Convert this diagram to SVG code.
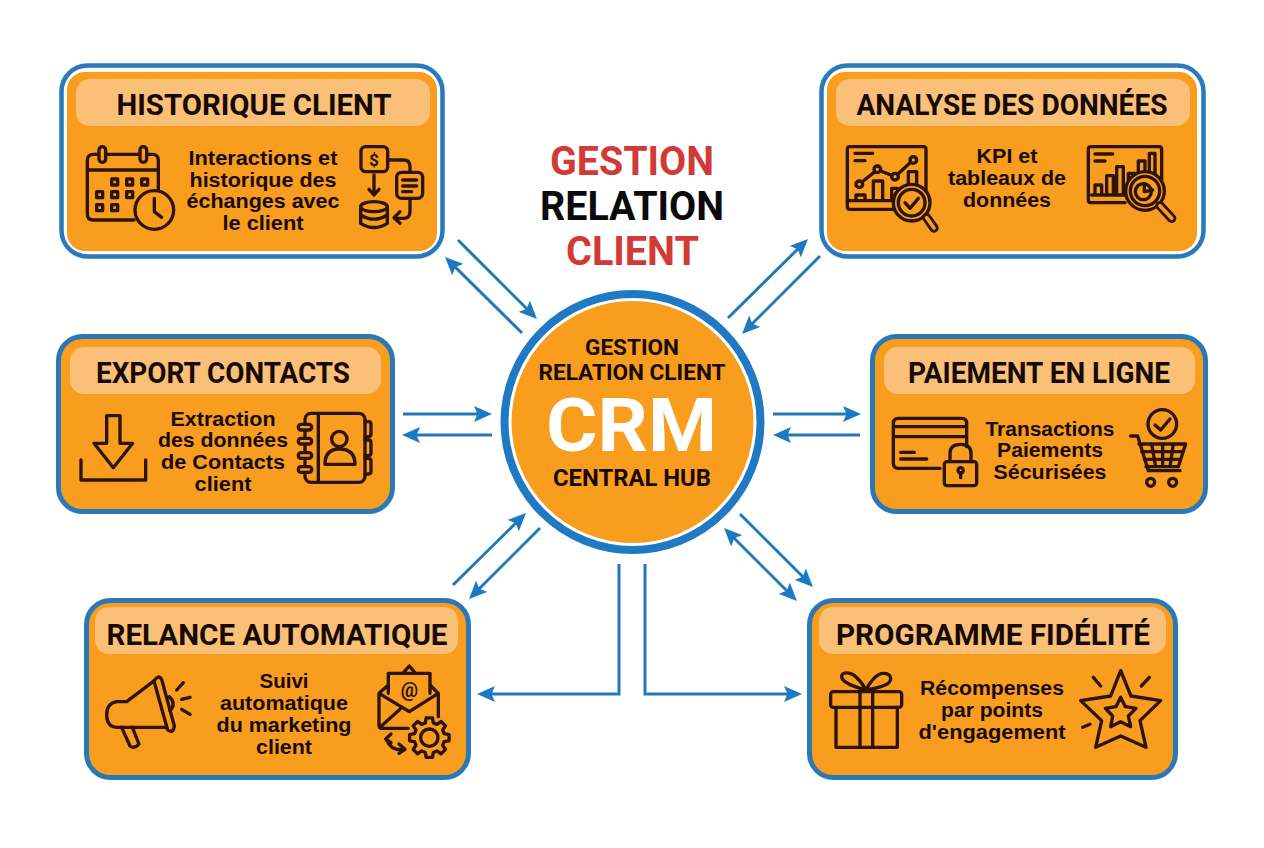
<svg xmlns="http://www.w3.org/2000/svg" width="1264" height="848" viewBox="0 0 1264 848">
<style>
text{text-anchor:middle;font-family:"Roboto","Liberation Sans",sans-serif;font-weight:700;fill:#170A04}
.ttl{font-size:41px}
.hd{font-size:29px}
.bd{font-family:"Liberation Sans","Arimo",sans-serif;font-size:20px}
.box{fill:#F99D1E;stroke:#2A78B5;stroke-width:5}
.out{fill:#fff;stroke:#2A7ABA;stroke-width:4.500}
.hdr{fill:#FBC078}
.ic{fill:none;stroke:#2E1408;stroke-width:10;stroke-linecap:round;stroke-linejoin:round}
.icf{fill:#F99D1E}
.ict{font-size:60px;fill:#2E1408}
.cn{fill:none;stroke:#2478B8;stroke-width:3}
</style>
<defs>
<marker id="ah" viewBox="0 0 18 16" refX="10" refY="8" markerWidth="18" markerHeight="16" markerUnits="userSpaceOnUse" orient="auto-start-reverse"><path d="M0 0L18 8L0 16L3.500 8Z" fill="#1C7AC4"/></marker>
</defs>
<rect width="1264" height="848" fill="#fff"/>

<g id="title">
<text class="ttl" x="632" y="175" style="fill:#D13A36" textLength="164" lengthAdjust="spacingAndGlyphs">GESTION</text>
<text class="ttl" x="632" y="220" style="fill:#0a0a0a" textLength="184" lengthAdjust="spacingAndGlyphs">RELATION</text>
<text class="ttl" x="632.500" y="265" style="fill:#D13A36" textLength="133" lengthAdjust="spacingAndGlyphs">CLIENT</text>
</g>

<g id="connectors" class="cn" marker-end="url(#ah)">
<path d="M458 240L531.300 313.300"/>
<path d="M522 333L450.700 262.600"/>
<path d="M728 318L802.300 244.600"/>
<path d="M820 256L747.700 328.300"/>
<path d="M403 414H484"/>
<path d="M492 435H410"/>
<path d="M773 414H853"/>
<path d="M860 435H781"/>
<path d="M453 585L520.300 518.600"/>
<path d="M540 528L474.700 593.300"/>
<path d="M740 514L807.300 581.300"/>
<path d="M729.700 533.700L791.300 595.300" marker-start="url(#ah)"/>
<path d="M619 564V694H485"/>
<path d="M645 564V694H794"/>
</g>

<g id="hub">
<circle cx="632.500" cy="422" r="128" fill="#fff" stroke="#1F79C4" stroke-width="8"/>
<circle cx="632.500" cy="422" r="121" fill="#F99D1E"/>
<text x="632" y="355" style="font-size:22.500px" textLength="94" lengthAdjust="spacingAndGlyphs">GESTION</text>
<text x="632" y="380" style="font-size:22.500px" textLength="187" lengthAdjust="spacingAndGlyphs">RELATION CLIENT</text>
<text x="631.500" y="451" style="font-size:75px;fill:#fff" textLength="171" lengthAdjust="spacingAndGlyphs">CRM</text>
<text x="632" y="486" style="font-size:24px" textLength="158" lengthAdjust="spacingAndGlyphs">CENTRAL HUB</text>
</g>

<g id="historique">
<rect class="out" x="61.500" y="65.500" width="381" height="191" rx="26"/>
<rect class="icf" x="67" y="72" width="370" height="179" rx="18"/>
<rect class="hdr" x="76" y="79" width="354" height="47" rx="14"/>
<text class="hd" x="254" y="115" textLength="275" lengthAdjust="spacingAndGlyphs">HISTORIQUE CLIENT</text>
<text class="bd" x="263" y="165" textLength="149" lengthAdjust="spacingAndGlyphs">Interactions et</text>
<text class="bd" x="263" y="187" textLength="147" lengthAdjust="spacingAndGlyphs">historique des</text>
<text class="bd" x="263" y="208" textLength="153" lengthAdjust="spacingAndGlyphs">échanges avec</text>
<text class="bd" x="263" y="230" textLength="81" lengthAdjust="spacingAndGlyphs">le client</text>
<g transform="translate(50 55) scale(.33333)" class="ic">
<path d="M252 495H130Q112 495 112 477V316Q112 298 130 298H145M170 298H268M292 298H307Q325 298 325 316V405M112 345H325"/>
<rect x="147" y="275" width="20" height="47" rx="10"/><rect x="270" y="275" width="20" height="47" rx="10"/>
<path d="M185 372h18v18h-18zM230 372h18v18h-18zM275 372h18v18h-18zM140 410h18v18h-18zM185 410h18v18h-18zM230 410h18v18h-18zM140 449h18v18h-18zM185 449h18v18h-18z"/>
<circle cx="313" cy="465" r="58" class="icf"/>
<path d="M313 430V470L335 487"/>
<rect x="933" y="275" width="80" height="75" rx="14"/>
<text class="ict" x="972" y="334" style="font-size:52px;stroke:none">$</text>
<path d="M1013 315H1060Q1080 315 1080 335V352M1080 430V470Q1080 490 1060 490H1035M1050 470L1032 488L1050 505M972 360V418M957 403L972 420L987 403"/>
<rect x="1040" y="352" width="78" height="78" rx="15"/>
<path d="M1058 375H1100M1058 393H1100M1058 410H1085"/>
<ellipse cx="972" cy="455" rx="40" ry="15"/>
<path d="M932 455V505Q972 530 1012 505V455M932 480Q972 505 1012 480"/>
</g>
</g>

<g id="analyse">
<rect class="out" x="821.500" y="65.500" width="382" height="191" rx="26"/>
<rect class="icf" x="827" y="72" width="370" height="179" rx="18"/>
<rect class="hdr" x="836" y="79" width="354" height="47" rx="14"/>
<text class="hd" x="1012" y="115" textLength="311" lengthAdjust="spacingAndGlyphs">ANALYSE DES DONNÉES</text>
<text class="bd" x="1007" y="163" textLength="61" lengthAdjust="spacingAndGlyphs">KPI et</text>
<text class="bd" x="1007" y="185" textLength="118" lengthAdjust="spacingAndGlyphs">tableaux de</text>
<text class="bd" x="1007" y="207" textLength="88" lengthAdjust="spacingAndGlyphs">données</text>
<g transform="translate(810 55) scale(.33333)" class="ic">
<path d="M255 463H120Q112 463 112 455V283Q112 275 120 275H340Q348 275 348 283V405M135 295H188M135 317H165"/>
<path d="M156 381L195 350M212 348L246 361M263 358L302 322"/>
<circle cx="148" cy="388" r="10"/><circle cx="202" cy="343" r="10"/><circle cx="255" cy="365" r="10"/><circle cx="310" cy="315" r="10"/>
<path d="M138 437V420H165V437M190 437V378H218V437M245 430V400H262M295 385V350H320V385M112 437H250"/>
<circle cx="305" cy="443" r="55" class="icf"/><circle cx="305" cy="443" r="40"/>
<path d="M285 443L300 460L325 430"/>
<path d="M350 488L372 519" style="stroke-width:28"/><path d="M350 488L372 519" style="stroke:#F99D1E;stroke-width:11"/>
<path d="M945 443H843Q835 443 835 435V283Q835 275 843 275H1047Q1055 275 1055 283V375M855 297H908M855 318H885"/>
<path d="M855 420V390H875V420M890 420V362H910V420M920 420V335H940V420M955 375V355H975M985 360V318H1005V350M1018 385V295H1035V385M845 420H945"/>
<circle cx="1005" cy="408" r="58" class="icf"/><circle cx="1005" cy="408" r="44"/><circle cx="1000" cy="410" r="24"/>
<path d="M1003 385V410L1028 405"/>
<path d="M1050 452L1085 490" style="stroke-width:28"/><path d="M1050 452L1085 490" style="stroke:#F99D1E;stroke-width:11"/>
</g>
</g>

<g id="export">
<rect class="box" x="58.500" y="336.500" width="334" height="175" rx="24"/>
<rect class="hdr" x="70" y="347" width="311" height="47" rx="14"/>
<text class="hd" x="223" y="383" textLength="254" lengthAdjust="spacingAndGlyphs">EXPORT CONTACTS</text>
<text class="bd" x="223" y="426" textLength="105" lengthAdjust="spacingAndGlyphs">Extraction</text>
<text class="bd" x="223" y="447" textLength="130" lengthAdjust="spacingAndGlyphs">des données</text>
<text class="bd" x="223" y="469" textLength="124" lengthAdjust="spacingAndGlyphs">de Contacts</text>
<text class="bd" x="223" y="491" textLength="57" lengthAdjust="spacingAndGlyphs">client</text>
<g transform="translate(50 325) scale(.33333)" class="ic">
<path d="M170 272H210V355H248L190 428L132 355H170ZM93 405V465H287V405"/>
<rect x="765" y="265" width="180" height="207" rx="18"/>
<path d="M805 265V472"/>
<rect x="745" y="298" width="40" height="17" rx="8" class="icf"/><rect x="745" y="340" width="40" height="17" rx="8" class="icf"/><rect x="745" y="383" width="40" height="17" rx="8" class="icf"/><rect x="745" y="425" width="40" height="17" rx="8" class="icf"/>
<path d="M945 290H955Q963 290 963 298V327Q963 335 955 335H945M945 345H955Q963 345 963 353V384Q963 392 955 392H945M945 400H955Q963 400 963 408V439Q963 447 955 447H945"/>
<circle cx="868" cy="342" r="23"/>
<path d="M825 418Q825 372 868 372Q915 372 915 418Z"/>
</g>
</g>

<g id="paiement">
<rect class="box" x="872.500" y="336.500" width="333" height="175" rx="24"/>
<rect class="hdr" x="884" y="347" width="311" height="47" rx="14"/>
<text class="hd" x="1039" y="383" textLength="262" lengthAdjust="spacingAndGlyphs">PAIEMENT EN LIGNE</text>
<text class="bd" x="1050" y="436" textLength="129" lengthAdjust="spacingAndGlyphs">Transactions</text>
<text class="bd" x="1050" y="457" textLength="106" lengthAdjust="spacingAndGlyphs">Paiements</text>
<text class="bd" x="1050" y="479" textLength="113" lengthAdjust="spacingAndGlyphs">Sécurisées</text>
<g transform="translate(865 325) scale(.33333)" class="ic">
<path d="M225 430H100Q85 430 85 415V295Q85 280 100 280H290Q305 280 305 295V365M85 305H305M85 335H305M107 382H148M107 402H185"/>
<path d="M255 410V385Q255 358 287 358Q318 358 318 385V410"/>
<rect x="238" y="410" width="97" height="72" rx="8"/>
<circle cx="287" cy="436" r="8"/><path d="M287 443V458"/>
<circle cx="892" cy="297" r="43"/>
<path d="M870 300L887 315L915 282M797 333H818L850 437H945M822 357H962L940 425H843M830 380H955M838 403H947M860 357L872 425M893 357V425M925 357L915 425"/>
<circle cx="857" cy="472" r="12"/><circle cx="923" cy="472" r="12"/>
</g>
</g>

<g id="relance">
<rect class="box" x="86.500" y="600.500" width="382" height="177" rx="24"/>
<rect class="hdr" x="95" y="607" width="363" height="47" rx="14"/>
<text class="hd" x="277" y="645" textLength="341" lengthAdjust="spacingAndGlyphs">RELANCE AUTOMATIQUE</text>
<text class="bd" x="284" y="688" textLength="49" lengthAdjust="spacingAndGlyphs">Suivi</text>
<text class="bd" x="284" y="710" textLength="128" lengthAdjust="spacingAndGlyphs">automatique</text>
<text class="bd" x="284" y="732" textLength="135" lengthAdjust="spacingAndGlyphs">du marketing</text>
<text class="bd" x="284" y="754" textLength="56" lengthAdjust="spacingAndGlyphs">client</text>
<g transform="translate(75 590) scale(.33333)" class="ic">
<path d="M238 272L155 335H125Q95 340 95 375Q95 410 125 412H160L275 412"/>
<path d="M237 273Q250 252 260 268L298 408Q295 432 278 420Z"/>
<path d="M140 412L165 468Q178 478 192 462L172 412M283 320Q305 340 285 362M325 278L305 300M345 322L320 328M345 373L320 358"/>
<path d="M940 310V250H1065V310M985 248L1003 228L1020 248M940 285L912 310L1003 365L1090 310L1065 285M912 310V405Q912 415 920 415H1000M1090 310V380M915 412L975 358"/>
<text class="ict" x="1003" y="322" style="stroke:none;font-size:58px">@</text>
<path transform="translate(1063 443)" class="icf" d="M-11.900-44.400L-9.400-59.300H9.400L11.900-44.400L23-39.800L35.300-48.600L48.600-35.300L39.800-23L44.400-11.900L59.300-9.400V9.400L44.400 11.900L39.800 23L48.600 35.300L35.300 48.600L23 39.800L11.900 44.400L9.400 59.300H-9.400L-11.900 44.400L-23 39.800L-35.300 48.600L-48.600 35.300L-39.800 23L-44.400 11.900L-59.300 9.400V-9.400L-44.400-11.900L-39.800-23L-48.600-35.300L-35.300-48.600L-23-39.800Z"/>
<circle cx="1063" cy="443" r="26"/>
<path d="M948 432L932 447L948 458M934 449Q950 485 988 478M972 462L990 478L972 490"/>
</g>
</g>

<g id="fidelite">
<rect class="box" x="809.500" y="600.500" width="366" height="177" rx="24"/>
<rect class="hdr" x="819" y="607" width="347" height="47" rx="14"/>
<text class="hd" x="993" y="645" textLength="314" lengthAdjust="spacingAndGlyphs">PROGRAMME FIDÉLITÉ</text>
<text class="bd" x="992" y="695" textLength="144" lengthAdjust="spacingAndGlyphs">Récompenses</text>
<text class="bd" x="992" y="717" textLength="102" lengthAdjust="spacingAndGlyphs">par points</text>
<text class="bd" x="992" y="739" textLength="147" lengthAdjust="spacingAndGlyphs">d'engagement</text>
<g transform="translate(800 590) scale(.33333)" class="ic">
<rect x="92" y="305" width="213" height="47" rx="8"/>
<path d="M108 352V472H292V352M180 305V472M218 305V472"/>
<path d="M198 300C160 290 125 275 125 260C125 245 150 245 165 258Q185 275 198 300C210 275 230 250 250 250C275 250 278 270 262 282Q235 295 198 300Z"/>
<path d="M962 242L993 318L1082 332L1020 392L1038 472L962 438L887 472L905 392L842 332L932 318Z"/>
<path d="M962 322L976 350L1008 355L985 378L992 410L962 395L932 410L938 378L916 355L948 350Z"/>
<path d="M880 262L902 288M1048 262L1024 288M848 412L870 403"/>
</g>
</g>
</svg>
